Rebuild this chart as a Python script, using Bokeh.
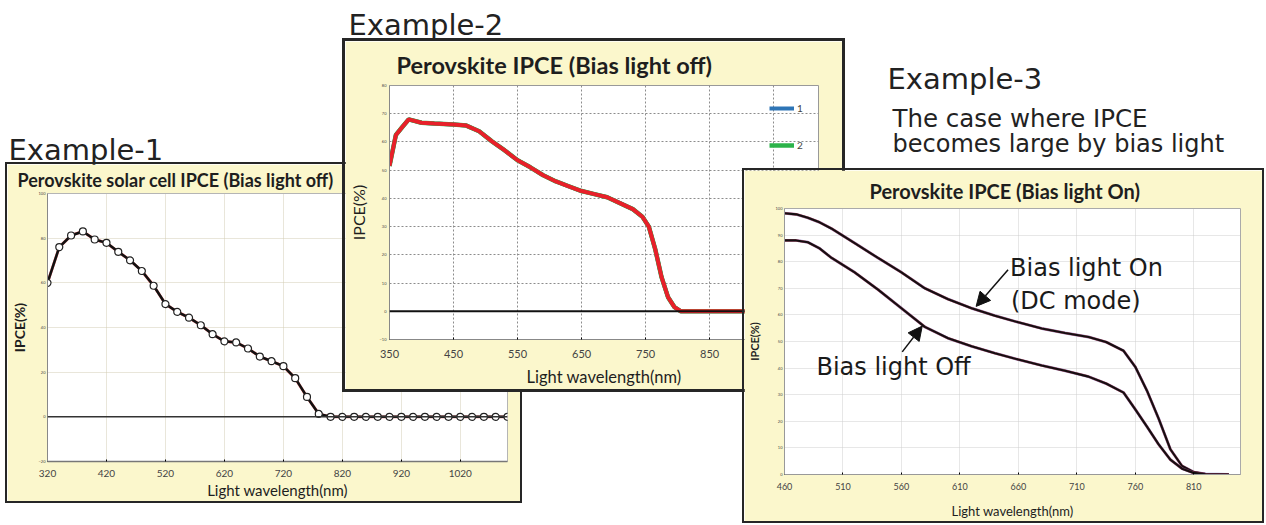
from bokeh.plotting import figure
from bokeh.models import (Range1d, FixedTicker, Span, Label, Arrow, NormalHead,
                          Legend, LegendItem)
from bokeh.embed import file_html
from bokeh.resources import INLINE

# ---------------- data ----------------
# Example-1 : Perovskite solar cell IPCE (Bias light off)
wl1 = [320, 340, 360, 380, 400, 420, 440, 460, 480, 500, 520, 540, 560, 580, 600,
       620, 640, 660, 680, 700, 720, 740, 760, 780, 800, 820, 840, 860, 880, 900,
       920, 940, 960, 980, 1000, 1020, 1040, 1060, 1080, 1100]
ipce1 = [60, 76, 81.2, 83, 79.4, 77.9, 73.9, 70.1, 65.3, 58.7, 50.5, 47, 44.4, 41, 37,
         33.8, 33.3, 30.6, 27, 24.9, 22.7, 17.3, 8.9, 1.3, 0, 0, 0, 0, 0, 0,
         0, 0, 0, 0, 0, 0, 0, 0, 0, 0]
x1_ticks = [320, 420, 520, 620, 720, 820, 920, 1020]
y1_ticks = [-20, 0, 20, 40, 60, 80, 100]

# Example-2 : Perovskite IPCE (Bias light off)
wl2 = [350, 360, 370, 380, 400, 420, 450, 470, 490, 510, 530, 550, 570, 590, 610,
       630, 650, 670, 690, 710, 730, 745, 755, 765, 775, 785, 795, 805, 850, 900,
       950, 1000]
ipce2 = [51.5, 62.5, 65.3, 68, 66.8, 66.5, 66.2, 65.8, 63.8, 60.2, 57, 53.5, 51, 48.2, 46,
         44.3, 42.6, 41.5, 40.4, 38.3, 36.2, 33.5, 30, 22, 12, 5, 1.5, 0, 0, 0,
         0, 0]
x2_ticks = [350, 450, 550, 650, 750, 850, 950]
y2_ticks = [-10, 0, 10, 20, 30, 40, 50, 60, 70, 80]
legend2 = ["1", "2", "3"]

# Example-3 : Perovskite IPCE (Bias light On)
wl3 = [460, 470, 480, 490, 500, 520, 540, 560, 580, 600, 620, 640, 660, 680, 700,
       720, 735, 750, 760, 770, 780, 790, 800, 810, 820, 840]
ipce3_on = [98.2, 97.8, 96.5, 94.8, 92.5, 87, 81.4, 76, 70, 65.9, 62.5, 59.7, 57.2, 54.9, 53.2,
            51.7, 49.8, 46.5, 40.5, 31.5, 21, 9.5, 3.2, 0.9, 0.2, 0]
ipce3_off = [88, 88, 87.3, 85, 81.5, 76, 69.5, 62.5, 55.5, 51.2, 48.2, 45.6, 43.2, 41, 39,
             36.8, 34.2, 30.8, 24.5, 18, 11.3, 5.6, 2.2, 0.6, 0.1, 0]
x3_ticks = [460, 510, 560, 610, 660, 710, 760, 810]
y3_ticks = [0, 10, 20, 30, 40, 50, 60, 70, 80, 90, 100]

YELLOW = "#fbf7cc"
FONT = "Lato"
TXT = "#1e1e1e"


def panel(left, top, w, h, borders, shadow, z, xr, yr, xticks, yticks):
    p = figure(width=w, height=h, x_range=Range1d(*xr), y_range=Range1d(*yr),
               output_backend="svg", toolbar_location=None,
               min_border_left=borders[0], min_border_right=borders[1],
               min_border_top=borders[2], min_border_bottom=borders[3],
               background_fill_color="white", border_fill_color=YELLOW)
    p.styles = {"position": "absolute", "left": f"{left}px", "top": f"{top}px",
                "box-shadow": f"0 0 0 {shadow}px #262626", "z-index": str(z)}
    p.xaxis.ticker = FixedTicker(ticks=xticks)
    p.yaxis.ticker = FixedTicker(ticks=yticks)
    p.axis.minor_tick_line_color = None
    p.axis.major_label_text_font = FONT
    p.axis.axis_label_text_font = FONT
    p.axis.major_label_text_color = "#444"
    p.axis.axis_label_text_color = TXT
    p.axis.axis_label_text_font_style = "normal"
    p.yaxis.major_label_text_font_size = "4px"
    p.yaxis.major_tick_out = 0
    p.yaxis.major_tick_in = 0
    p.xaxis.major_tick_out = 0
    p.xaxis.major_tick_in = 2
    p.title.text_font = FONT
    p.title.text_color = TXT
    p.title.text_font_style = "bold"
    return p


# ---------------- background texts ----------------
bg = figure(width=1240, height=170, x_range=Range1d(0, 1240), y_range=Range1d(170, 0),
            x_axis_type=None, y_axis_type=None, min_border=0, outline_line_color=None,
            toolbar_location=None, output_backend="svg", background_fill_color="white",
            border_fill_color="white")
bg.grid.visible = False
bg.styles = {"position": "absolute", "left": "0px", "top": "0px", "z-index": "0"}
for (tx, ty, txt, fs) in [(8, 149, "Example-1", "29px"),
                          (348, 24, "Example-2", "29px"),
                          (887, 78, "Example-3", "29px"),
                          (892, 118, "The case where IPCE", "24.5px"),
                          (892, 143, "becomes large by bias light", "24px")]:
    bg.add_layout(Label(x=tx, y=ty, text=txt, text_font="DejaVu Sans", text_font_size=fs,
                        text_color="#222", text_baseline="alphabetic", text_align="left"))

# ---------------- Example-1 ----------------
p1 = panel(7, 164, 513, 337, (37, 13, 28, 38), 2, 1, (320, 1100), (-20, 100), x1_ticks, y1_ticks)
p1.title.text = "Perovskite solar cell IPCE (Bias light off)"
p1.title.text_font_size = "18px"
p1.title.align = "left"
p1.title.offset = -30
p1.title.standoff = 5
p1.xaxis.axis_label = "Light wavelength(nm)"
p1.yaxis.axis_label = "IPCE(%)"
p1.xaxis.axis_label_text_font_size = "15px"
p1.yaxis.axis_label_text_font_size = "14px"
p1.yaxis.axis_label_text_font_style = "bold"
p1.xaxis.major_label_text_font_size = "10px"
p1.xaxis.major_label_standoff = 8
p1.xaxis.axis_label_standoff = 1
p1.yaxis.major_label_standoff = 2
p1.yaxis.axis_label_standoff = 8
p1.grid.grid_line_color = "#d3cdb4"
p1.grid.grid_line_dash = "1 1"
p1.outline_line_color = "#b5b5b5"
p1.xaxis.axis_line_color = "#777"
p1.xaxis.axis_line_width = 1.5
p1.yaxis.axis_line_color = "#888"
p1.add_layout(Span(location=0, dimension="width", line_color="#333", line_width=1.5))
p1.line(wl1, ipce1, line_color="#d62728", line_width=2.9, line_alpha=0.7)
p1.line(wl1, ipce1, line_color="#111", line_width=2.5)
p1.scatter(wl1, ipce1, size=7, fill_color="white", line_color="#222", line_width=1.2)

# ---------------- Example-2 ----------------
p2 = panel(345, 41, 497, 348, (41, 24, 42, 50), 3, 2, (350, 1020), (-10, 80), x2_ticks, y2_ticks)
p2.title.text = "Perovskite  IPCE (Bias light off)"
p2.title.text_font_size = "23.5px"
p2.title.align = "left"
p2.title.offset = 7
p2.title.standoff = 14
p2.xaxis.axis_label = "Light wavelength(nm)"
p2.yaxis.axis_label = "IPCE(%)"
p2.xaxis.axis_label_text_font_size = "16.5px"
p2.yaxis.axis_label_text_font_size = "16px"
p2.xaxis.major_label_text_font_size = "11px"
p2.xaxis.major_label_standoff = 10
p2.xaxis.axis_label_standoff = 6
p2.yaxis.major_label_standoff = 3
p2.yaxis.axis_label_standoff = 9
p2.grid.grid_line_color = "#8c8c8c"
p2.grid.grid_line_dash = "2 2"
p2.outline_line_color = "#999"
p2.axis.axis_line_color = "#888"
p2.add_layout(Span(location=0, dimension="width", line_color="#111", line_width=2))
rb = p2.line(wl2, ipce2, line_color="#2e75b6", line_width=4)
rg = p2.line(wl2, ipce2, line_color="#2cb34a", line_width=4.5)
rr = p2.line(wl2, ipce2, line_color="#e8202a", line_width=4)
leg = Legend(items=[LegendItem(label=legend2[0], renderers=[rb]),
                    LegendItem(label=legend2[1], renderers=[rg]),
                    LegendItem(label=legend2[2], renderers=[rr])],
             location=(380, 147), orientation="vertical", glyph_width=25, glyph_height=20,
             spacing=17, padding=0, margin=0, label_standoff=3, border_line_color=None,
             background_fill_alpha=0, label_text_font_size="10px", label_text_font=FONT,
             label_height=20)
p2.add_layout(leg)

# ---------------- Example-3 ----------------
p3 = panel(744, 170, 518, 351, (39, 22, 38, 44), 2, 3, (460, 850), (0, 100), x3_ticks, y3_ticks)
p3.title.text = "Perovskite IPCE (Bias light On)"
p3.title.text_font_size = "20px"
p3.title.align = "left"
p3.title.offset = 85
p3.title.standoff = 11
p3.xaxis.axis_label = "Light wavelength(nm)"
p3.yaxis.axis_label = "IPCE(%)"
p3.xaxis.axis_label_text_font_size = "13px"
p3.yaxis.axis_label_text_font_size = "11px"
p3.yaxis.axis_label_text_font_style = "bold"
p3.xaxis.major_label_text_font_size = "9px"
p3.xaxis.major_label_standoff = 8
p3.xaxis.axis_label_standoff = 10
p3.yaxis.major_label_standoff = 2
p3.yaxis.axis_label_standoff = 12
p3.grid.grid_line_color = "#cfcfcf"
p3.grid.grid_line_dash = "1 1"
p3.outline_line_color = "#aaa"
p3.axis.axis_line_color = "#999"
for ys in (ipce3_on, ipce3_off):
    p3.line(wl3, ys, line_color="#3a4fc0", line_width=2.9, line_alpha=0.5)
    p3.line(wl3, ys, line_color="#d62728", line_width=2.6, line_alpha=0.6)
    p3.line(wl3, ys, line_color="#150f12", line_width=2.1)

ann_font = "DejaVu Sans"
for (ax, ay, txt) in [(652.9, 77.7, "Bias light On"), (653.7, 65.2, "(DC mode)"),
                      (487.3, 40.5, "Bias light Off")]:
    p3.add_layout(Label(x=ax, y=ay, text=txt, text_font=ann_font, text_font_size="24px",
                        text_color="#1a1a1a", text_baseline="alphabetic"))
p3.add_layout(Arrow(end=NormalHead(size=14, fill_color="#111", line_color="#111"),
                    x_start=651.2, y_start=77, x_end=623.9, y_end=63.2,
                    line_width=1.5, line_color="#111"))
p3.add_layout(Arrow(end=NormalHead(size=14, fill_color="#111", line_color="#111"),
                    x_start=560.7, y_start=46.1, x_end=577.8, y_end=55.8,
                    line_width=1.5, line_color="#111"))

open("out.html", "w").write(file_html([bg, p1, p2, p3], INLINE))
